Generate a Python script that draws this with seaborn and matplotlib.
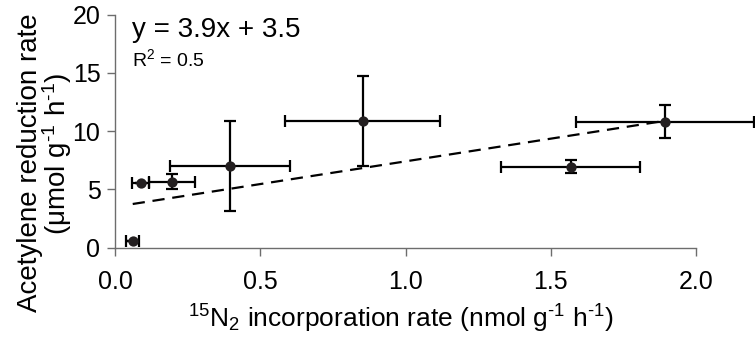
import numpy as np
import matplotlib
matplotlib.use("Agg")
import matplotlib.pyplot as plt
import pandas as pd
import seaborn as sns

# datos
n2_rate = [0.061, 0.088, 0.197, 0.396, 0.852, 1.568, 1.893]
n2_err = [0.023, 0.030, 0.079, 0.207, 0.267, 0.239, 0.307]
ara_rate = [0.55, 5.5, 5.65, 7.0, 10.87, 6.94, 10.8]
ara_err = [0.0, 0.0, 0.65, 3.85, 3.86, 0.57, 1.4]
slope = 3.9
intercept = 3.5
r2 = 0.5

sns.set_theme(style="ticks")
plt.rcParams['font.family'] = ['Liberation Sans', 'DejaVu Sans']
plt.rcParams['mathtext.fontset'] = 'custom'
plt.rcParams['mathtext.rm'] = 'Liberation Sans'

df = pd.DataFrame({'x': n2_rate, 'y': ara_rate, 'xerr': n2_err, 'yerr': ara_err})

fig = plt.figure(figsize=(7.55, 3.38), dpi=100)
ax = fig.add_axes([115 / 755, 90.5 / 338, 581 / 755, 232.8 / 338])

# linea de regresion
x_line = np.array([min(n2_rate), max(n2_rate)])
ax.plot(x_line, slope * x_line + intercept, color='black', lw=1.6,
        linestyle=(0, (5.5, 3.5)), zorder=2)

# barras de error
ax.errorbar(df['x'], df['y'], xerr=df['xerr'], yerr=df['yerr'], fmt='none',
            ecolor='black', elinewidth=1.6, capsize=4.5, capthick=1.6,
            clip_on=False, zorder=3)

# puntos
sns.scatterplot(data=df, x='x', y='y', ax=ax, color='#231f20', s=55,
                edgecolor='#231f20', linewidth=0, zorder=4, clip_on=False)

ax.set_xlim(0, 2.0)
ax.set_ylim(0, 20)
ax.set_xticks([0.0, 0.5, 1.0, 1.5, 2.0])
ax.set_yticks([0, 5, 10, 15, 20])
ax.set_xticklabels(['0.0', '0.5', '1.0', '1.5', '2.0'])

sns.despine(ax=ax)
for s in ['left', 'bottom']:
    ax.spines[s].set_color('#6d6d6d')
    ax.spines[s].set_linewidth(1.0)
ax.tick_params(axis='both', direction='out', length=6, width=1.0,
               color='#6d6d6d', labelsize=18, labelcolor='black')
ax.tick_params(axis='x', pad=10.5)
ax.tick_params(axis='y', pad=4.5)

# etiquetas de ejes
inv = r'$\mathregular{^{\text{-}1}}$'
ax.set_xlabel(r'$\mathregular{^{15}N_2}$ incorporation rate (nmol g' + inv + ' h' + inv + ')',
              fontsize=19, color='black')
ax.xaxis.set_label_coords(0.4914, -0.238)
ax.set_ylabel('')
fig.text(30 / 755, 1 - 162.5 / 338, 'Acetylene reduction rate', rotation=90,
         ha='center', va='center', fontsize=20, color='black')
fig.text(57 / 755, 1 - 153.5 / 338,
         r'($\mathregular{\mu}$mol g' + inv + ' h' + inv + ')', rotation=90,
         ha='center', va='center', fontsize=20, color='black')

# ecuacion de la recta
ax.text(0.0287, 0.903, 'y = %.1fx + %.1f' % (slope, intercept), transform=ax.transAxes,
        fontsize=20, va='baseline', ha='left', color='black')
ax.text(0.030, 0.78, r'R$\mathregular{^2}$ = ' + str(r2), transform=ax.transAxes,
        fontsize=14, va='baseline', ha='left', color='black')

fig.savefig('out.png', dpi=100)
plt.close()
